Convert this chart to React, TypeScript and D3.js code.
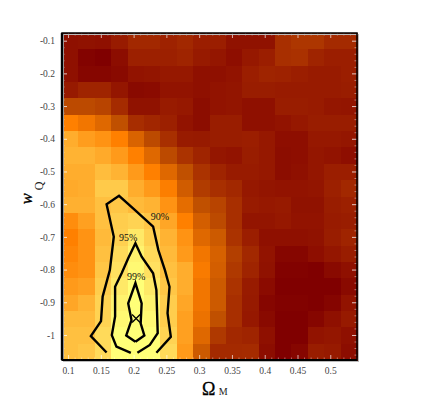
import React from "react";
import * as d3 from "d3";

const cellValues: number[][] = [
  [10,11,10,17,24,24,21,24,19,19,11,11,11,28,31,31,25,25],
  [10,2,0,8,20,20,20,22,16,14,9,15,19,28,29,22,19,19],
  [10,4,4,6,12,13,15,15,10,10,12,19,22,21,19,17,17,19],
  [16,22,22,14,6,7,12,12,10,12,13,18,18,17,17,17,17,18],
  [38,38,36,26,11,11,17,15,8,12,13,10,10,18,18,17,14,13],
  [60,56,50,40,27,23,20,12,8,18,18,10,10,12,15,18,18,18],
  [74,69,66,60,48,38,28,17,16,18,18,19,15,9,9,15,15,14],
  [76,76,73,68,60,50,38,30,22,14,12,18,15,8,9,14,12,9],
  [74,74,79,76,68,60,50,40,30,22,17,17,15,8,10,14,19,19],
  [73,74,83,83,74,68,59,45,33,28,24,15,13,12,12,13,20,24],
  [75,75,80,82,78,76,66,52,40,36,28,17,15,16,11,11,18,20],
  [64,70,80,84,86,82,72,60,46,38,28,13,13,15,12,12,17,18],
  [60,66,78,85,93,85,76,66,50,44,30,19,10,10,10,11,18,22],
  [62,66,80,88,96,88,78,68,56,47,34,24,12,4,4,9,14,18],
  [64,66,82,90,98,90,80,74,58,46,32,22,11,1,1,0,6,10],
  [68,70,84,93,100,93,82,74,56,44,30,17,7,0,0,0,0,6],
  [72,76,86,96,100,96,84,72,56,44,28,16,4,1,1,0,3,12],
  [78,78,86,98,100,98,84,70,54,40,28,15,6,0,0,4,10,16],
  [80,80,88,100,100,100,86,70,50,32,24,22,10,0,0,12,14,10],
  [80,82,88,100,100,100,88,68,44,25,25,26,8,0,4,18,16,8],
];

const contour90: [number, number][] = [
  [.158,-1.052],[.134,-1.002],[.1495,-.956],[.152,-.881],[.163,-.80],[.169,-.698],[.158,-.599],[.177,-.573],
  [.201,-.616],[.229,-.667],[.237,-.739],[.247,-.80],[.254,-.851],[.251,-.932],[.256,-1.004],[.234,-1.053],
];
const contour95: [number, number][] = [
  [.195,-1.053],[.173,-1.034],[.166,-.999],[.171,-.942],[.171,-.851],[.181,-.81],[.191,-.764],[.202,-.718],
  [.2115,-.759],[.229,-.81],[.234,-.861],[.236,-.993],[.224,-1.029],[.205,-1.053],
];
const contour99: [number, number][] = [
  [.202,-1.019],[.188,-1.0],[.196,-.953],[.191,-.902],[.202,-.84],[.2115,-.902],[.21,-.963],[.2156,-1.0],[.202,-1.019],
];
const bestFit: [number, number] = [.203,-.948];

const xTicks = [0.1,0.15,0.2,0.25,0.3,0.35,0.4,0.45,0.5];
const yTicks = [-0.1,-0.2,-0.3,-0.4,-0.5,-0.6,-0.7,-0.8,-0.9,-1];
const contourLabels: { text: string; at: [number, number] }[] = [
  { text: "90%", at: [.2395,-.637] },
  { text: "95%", at: [.191,-.70] },
  { text: "99%", at: [.203,-.82] },
];

const colorStops = ["#800000","#8f1000","#9c2000","#ab3300","#c05000","#df6800","#ff8000","#ffa020","#ffc040","#ffe060","#ffff78"];

const W = 436, H = 410;
const L = 62, R = 357, T = 33, B = 360;
const SERIF = "'Liberation Serif', serif";

export default function App() {
  const x = d3.scaleLinear().domain([0.09, 0.54]).range([L, R]);
  const y = d3.scaleLinear().domain([-0.075, -1.075]).range([T, B]);
  const color = d3.scaleLinear<string>().domain(d3.range(0, 101, 10)).range(colorStops).interpolate(d3.interpolateRgb);
  const line = d3.line<[number, number]>().x(d => x(d[0])).y(d => y(d[1]));
  const xMinor = d3.range(0.09, 0.5401, 0.01).map(v => +v.toFixed(2));
  const yMinor = d3.range(-1.06, -0.0799, 0.02).map(v => +v.toFixed(2));
  const isXMajor = (v: number) => xTicks.some(t => Math.abs(t - v) < 1e-6);
  const isYMajor = (v: number) => yTicks.some(t => Math.abs(t - v) < 1e-6);
  const [bx, by] = [x(bestFit[0]), y(bestFit[1])];
  return (
    <svg width={W} height={H} style={{ position: "absolute", left: 0, top: 0, background: "#fff" }} fontFamily={SERIF}>
      <g shapeRendering="crispEdges">
        {cellValues.flatMap((row, r) => row.map((v, c) => {
          const x0 = x(0.09 + c * 0.025), x1 = x(0.09 + (c + 1) * 0.025);
          const y0 = y(-0.075 - r * 0.05), y1 = y(-0.075 - (r + 1) * 0.05);
          return <rect key={`${r}-${c}`} x={x0} y={y0} width={x1 - x0 + 0.5} height={y1 - y0 + 0.5} fill={color(v)} />;
        }))}
      </g>
      <g stroke="#fff">
        {xMinor.map(v => {
          const len = isXMajor(v) ? 5 : 2.5;
          const op = isXMajor(v) ? 0.65 : 0.4;
          return (
            <g key={v} strokeOpacity={op}>
              <line x1={x(v)} x2={x(v)} y1={T} y2={T + len} />
              <line x1={x(v)} x2={x(v)} y1={B} y2={B - len} />
            </g>
          );
        })}
        {yMinor.map(v => {
          const len = isYMajor(v) ? 5 : 2.5;
          const op = isYMajor(v) ? 0.75 : 0.45;
          return (
            <g key={v} strokeOpacity={op}>
              <line x1={L} x2={L + len} y1={y(v)} y2={y(v)} />
              <line x1={R} x2={R - len} y1={y(v)} y2={y(v)} />
            </g>
          );
        })}
      </g>
      <g fill="none" stroke="#000" strokeWidth={2.4} strokeLinejoin="miter">
        <path d={line(contour90) ?? ""} />
        <path d={line(contour95) ?? ""} />
        <path d={line(contour99) ?? ""} />
        <path d={`M${bx - 4},${by - 4}L${bx + 4},${by + 4}M${bx - 4},${by + 4}L${bx + 4},${by - 4}`} strokeWidth={1.3} />
      </g>
      <g fontSize={10} fill="#111" textAnchor="middle">
        {contourLabels.map(d => (
          <text key={d.text} x={x(d.at[0])} y={y(d.at[1])} dy="0.33em">{d.text}</text>
        ))}
      </g>
      <rect x={L} y={T} width={R - L} height={B - T} fill="none" stroke="#bbb" strokeWidth={1} transform="translate(1.5,1.5)" />
      <rect x={L} y={T} width={R - L} height={B - T} fill="none" stroke="#000" strokeWidth={1.5} />
      <line x1={L} x2={L} y1={T} y2={B} stroke="#000" strokeWidth={2.4} />
      <line x1={L} x2={R} y1={B} y2={B} stroke="#000" strokeWidth={2} />
      <g fontSize={9.5} fill="#444" textAnchor="middle">
        {xTicks.map(v => <text key={v} x={x(v)} y={374}>{String(v)}</text>)}
      </g>
      <g fontSize={9.5} fill="#444" textAnchor="end">
        {yTicks.map(v => <text key={v} x={55} y={y(v)} dy="0.33em">{String(v)}</text>)}
      </g>
      <text x={208.7} y={395} fontSize={18} textAnchor="middle" fill="#000" stroke="#000" strokeWidth={0.3}>Ω</text>
      <text x={223.2} y={395} fontSize={10} textAnchor="middle" fill="#222">M</text>
      <text transform="translate(32,198.7) rotate(-90)" fontSize={16.5} fontStyle="italic" textAnchor="middle" fill="#000" stroke="#000" strokeWidth={0.3}>w</text>
      <text transform="translate(43,186) rotate(-90)" fontSize={12} textAnchor="middle" fill="#222">Q</text>
    </svg>
  );
}
